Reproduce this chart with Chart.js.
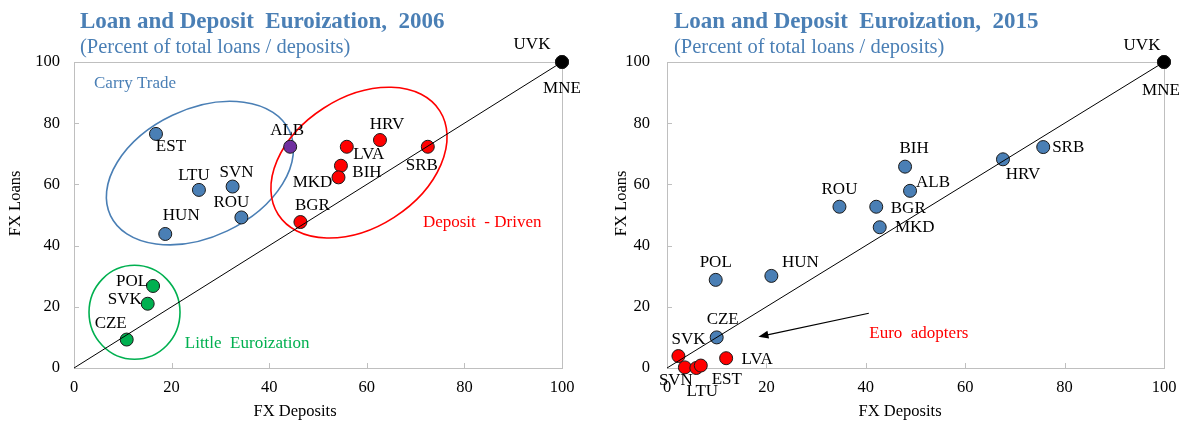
<!DOCTYPE html>
<html>
<head>
<meta charset="utf-8">
<script src="https://cdn.jsdelivr.net/npm/chart.js@4.4.1/dist/chart.umd.min.js"></script>
<style>
  body { margin: 0; background: #fff; width: 1182px; height: 421px; overflow: hidden; position: relative; font-family: "Liberation Serif", serif; }
  .panel { position: absolute; top: 0; height: 421px; }
  .title { position: absolute; font-weight: bold; font-size: 23px; line-height: 23px; color: #4a7fb5; white-space: pre; }
  .sub { position: absolute; font-size: 20.5px; line-height: 20.5px; color: #4a7fb5; white-space: pre; }
</style>
</head>
<body>
<div class="panel" style="left:0;width:590px">
  <canvas id="chart2006" width="590" height="421"></canvas>
</div>
<div class="panel" style="left:590px;width:592px">
  <canvas id="chart2015" width="592" height="421"></canvas>
</div>
<div class="title" style="left:80px;top:9px">Loan and Deposit  Euroization,  2006</div>
<div class="sub" style="left:80px;top:36px">(Percent of total loans / deposits)</div>
<div class="title" style="left:674px;top:9px">Loan and Deposit  Euroization,  2015</div>
<div class="sub" style="left:674px;top:36px">(Percent of total loans / deposits)</div>

<script>
/* ---------------------------
   Data
--------------------------- */
const axisTicks = [0, 20, 40, 60, 80, 100];

const countries2006 = ["UVK", "MNE", "EST", "LTU", "SVN", "ROU", "HUN", "ALB", "HRV", "LVA", "BIH", "MKD", "SRB", "BGR", "POL", "SVK", "CZE"];
const deposits2006 = [100, 100, 16.8, 25.6, 32.5, 34.3, 18.7, 44.3, 62.7, 55.9, 54.7, 54.2, 72.5, 46.4, 16.2, 15.1, 10.8];
const loans2006 = [100, 100, 76.5, 58.2, 59.3, 49.2, 43.8, 72.3, 74.5, 72.3, 66.1, 62.3, 72.3, 47.7, 26.8, 21.0, 9.3];
const groups2006 = ["euroized", "euroized", "carry", "carry", "carry", "carry", "carry", "both", "deposit", "deposit", "deposit", "deposit", "deposit", "deposit", "little", "little", "little"];

const countries2015 = ["UVK", "MNE", "BIH", "ALB", "ROU", "BGR", "MKD", "HRV", "SRB", "POL", "HUN", "CZE", "SVK", "SVN", "LTU", "EST", "LVA"];
const deposits2015 = [100, 100, 47.9, 48.9, 34.7, 42.1, 42.8, 67.6, 75.7, 9.8, 21.0, 10.0, 2.3, 3.6, 5.9, 6.8, 11.9];
const loans2015 = [100, 100, 65.8, 57.9, 52.7, 52.7, 46.0, 68.2, 72.2, 28.8, 30.1, 10.0, 3.9, 0.2, 0.0, 0.8, 3.2];
const groups2015 = ["euroized", "euroized", "other", "other", "other", "other", "other", "other", "other", "other", "other", "other", "adopter", "adopter", "adopter", "adopter", "adopter"];

/* ---------------------------
   Styles
--------------------------- */
const BLUE = "#4a7fb5";
const RED = "#ff0000";
const GREEN = "#00b050";
const SERIF = "'Liberation Serif', 'Times New Roman', serif";

const groupColors = {
  euroized: "#000000",
  carry: BLUE,
  both: "#7030a0",
  deposit: RED,
  little: GREEN,
  other: BLUE,
  adopter: RED
};

// label offsets in px from the point centre
const labelPos2006 = {
  UVK: [-30, -17], MNE: [0, 27], EST: [15, 13], LTU: [-5, -14], SVN: [4, -14],
  ROU: [-10, -15], HUN: [16, -18], ALB: [-3, -16], HRV: [7, -15], LVA: [22, 8],
  BIH: [26, 7], MKD: [-26, 5], SRB: [-6, 19], BGR: [12, -17], POL: [-21, -4],
  SVK: [-23, -4], CZE: [-16, -16]
};
const labelPos2015 = {
  UVK: [-22, -16], MNE: [-3, 29], BIH: [9, -18], ALB: [23, -8], ROU: [0, -17],
  BGR: [32, 2], MKD: [35, 0], HRV: [20, 15], SRB: [25, 0], POL: [0, -17],
  HUN: [29, -13], CZE: [6, -18], SVK: [10, -17], SVN: [-9, 13], LTU: [6, 24],
  EST: [26, 14], LVA: [31, 1]
};

// annotations: centres in data units, radii in px
const ellipses2006 = [
  { cx: 25.8, cy: 63.7, rx: 99, ry: 64, rot: -25.4, color: BLUE },
  { cx: 58.4, cy: 67.1, rx: 96, ry: 65, rot: -32.7, color: RED },
  { cx: 12.4, cy: 18.2, rx: 45.5, ry: 47, rot: 0, color: GREEN }
];
const notes2006 = [
  { text: "Carry Trade", x: 4.1, y: 93.0, color: BLUE },
  { text: "Deposit  - Driven", x: 71.5, y: 47.5, color: RED },
  { text: "Little  Euroization", x: 22.7, y: 8.1, color: GREEN }
];
const notes2015 = [
  { text: "Euro  adopters", x: 40.7, y: 11.3, color: RED }
];
const arrows2015 = [
  { from: [40.6, 17.9], to: [18.4, 10.2] }
];

/* ---------------------------
   Plugins
--------------------------- */
// grey frame round the plot area + inside tick marks
const frameBox = {
  id: "frameBox",
  beforeDatasetsDraw(chart) {
    const { ctx, chartArea: a, scales: { x, y } } = chart;
    ctx.save();
    ctx.strokeStyle = "#bfbfbf";
    ctx.lineWidth = 1;
    ctx.strokeRect(a.left + 0.5, a.top + 0.5, a.right - a.left, a.bottom - a.top);
    ctx.beginPath();
    for (const v of axisTicks) {
      const px = Math.round(x.getPixelForValue(v)) + 0.5;
      ctx.moveTo(px, a.bottom);
      ctx.lineTo(px, a.bottom - 5);
      const py = Math.round(y.getPixelForValue(v)) + 0.5;
      ctx.moveTo(a.left, py);
      ctx.lineTo(a.left + 5, py);
    }
    ctx.stroke();
    ctx.restore();
  }
};

// axis titles, placed where the original has them (not centred on the plot)
const axisTitles = {
  id: "axisTitles",
  afterDraw(chart, args, opts) {
    const { ctx, scales: { x, y } } = chart;
    ctx.save();
    ctx.font = `16.5px ${SERIF}`;
    ctx.fillStyle = "#000";
    ctx.textAlign = "center";
    ctx.textBaseline = "middle";
    ctx.fillText(opts.xText, x.getPixelForValue(opts.xAt), chart.height - 9.5);
    ctx.translate(opts.yTitleX, y.getPixelForValue(opts.yAt));
    ctx.rotate(-Math.PI / 2);
    ctx.fillText(opts.yText, 0, 0);
    ctx.restore();
  }
};

const annotations = {
  id: "annotations",
  beforeDatasetsDraw(chart, args, opts) {
    const { ctx, scales: { x, y } } = chart;
    ctx.save();
    for (const e of opts.ellipses || []) {
      ctx.beginPath();
      ctx.ellipse(x.getPixelForValue(e.cx), y.getPixelForValue(e.cy), e.rx, e.ry, e.rot * Math.PI / 180, 0, Math.PI * 2);
      ctx.strokeStyle = e.color;
      ctx.lineWidth = 1.6;
      ctx.stroke();
    }
    ctx.font = `17px ${SERIF}`;
    ctx.textAlign = "left";
    ctx.textBaseline = "middle";
    for (const n of opts.notes || []) {
      ctx.fillStyle = n.color;
      ctx.fillText(n.text, x.getPixelForValue(n.x), y.getPixelForValue(n.y));
    }
    for (const ar of opts.arrows || []) {
      const x1 = x.getPixelForValue(ar.from[0]), y1 = y.getPixelForValue(ar.from[1]);
      const x2 = x.getPixelForValue(ar.to[0]), y2 = y.getPixelForValue(ar.to[1]);
      const ang = Math.atan2(y2 - y1, x2 - x1);
      const c = Math.cos(ang), s = Math.sin(ang);
      ctx.strokeStyle = "#000";
      ctx.lineWidth = 1.2;
      ctx.beginPath();
      ctx.moveTo(x1, y1);
      ctx.lineTo(x2 - 8 * c, y2 - 8 * s);
      ctx.stroke();
      ctx.fillStyle = "#000";
      ctx.beginPath();
      ctx.moveTo(x2, y2);
      ctx.lineTo(x2 - 10 * c + 4 * s, y2 - 10 * s - 4 * c);
      ctx.lineTo(x2 - 10 * c - 4 * s, y2 - 10 * s + 4 * c);
      ctx.closePath();
      ctx.fill();
    }
    ctx.restore();
  }
};

const pointLabels = {
  id: "pointLabels",
  afterDatasetsDraw(chart, args, opts) {
    const { ctx } = chart;
    const meta = chart.getDatasetMeta(1);
    ctx.save();
    ctx.font = `17px ${SERIF}`;
    ctx.fillStyle = "#000";
    ctx.textAlign = "center";
    ctx.textBaseline = "middle";
    meta.data.forEach((pt, i) => {
      const name = opts.names[i];
      const off = opts.offsets[name] || [0, -15];
      ctx.fillText(name, pt.x + off[0], pt.y + off[1]);
    });
    ctx.restore();
  }
};

/* ---------------------------
   Chart builder
--------------------------- */
function buildChart(canvasId, cfg) {
  const ctx = document.getElementById(canvasId).getContext("2d");
  const points = cfg.deposits.map((d, i) => ({ x: d, y: cfg.loans[i] }));

  return new Chart(ctx, {
    type: "scatter",
    data: {
      datasets: [
        {
          type: "line",
          data: [{ x: 0, y: 0 }, { x: 100, y: 100 }],
          borderColor: "#000",
          borderWidth: 1,
          pointRadius: 0,
          clip: false
        },
        {
          data: points,
          backgroundColor: cfg.groups.map(g => groupColors[g]),
          borderColor: "#1a1a1a",
          borderWidth: 1,
          pointRadius: 6.5,
          clip: false
        }
      ]
    },
    options: {
      responsive: false,
      animation: false,
      devicePixelRatio: 1,
      layout: { padding: { top: 62, right: cfg.padRight, bottom: 0, left: 0 } },
      plugins: {
        legend: { display: false },
        tooltip: { enabled: false },
        annotations: { ellipses: cfg.ellipses, notes: cfg.notes, arrows: cfg.arrows },
        pointLabels: { names: cfg.names, offsets: cfg.offsets },
        axisTitles: { xText: "FX Deposits", xAt: cfg.xTitleAt, yText: "FX Loans", yAt: 53.8, yTitleX: cfg.yTitleX }
      },
      scales: {
        x: {
          type: "linear",
          min: 0,
          max: 100,
          afterBuildTicks: s => { s.ticks = axisTicks.map(v => ({ value: v })); },
          afterFit: s => { s.height = 53; s.paddingLeft = 0; s.paddingRight = 0; },
          grid: { display: false, drawTicks: false },
          border: { color: "#bfbfbf" },
          ticks: { color: "#000", font: { family: SERIF, size: 16.5 }, padding: 10, maxRotation: 0 }
        },
        y: {
          type: "linear",
          min: 0,
          max: 100,
          afterBuildTicks: s => { s.ticks = axisTicks.map(v => ({ value: v })); },
          afterFit: s => { s.width = cfg.yWidth; },
          grid: { display: false, drawTicks: false },
          border: { color: "#bfbfbf" },
          ticks: { color: "#000", font: { family: SERIF, size: 16.5 }, padding: cfg.yTickPad }
        }
      }
    },
    plugins: [frameBox, annotations, pointLabels, axisTitles]
  });
}

buildChart("chart2006", {
  names: countries2006, deposits: deposits2006, loans: loans2006, groups: groups2006,
  offsets: labelPos2006, ellipses: ellipses2006, notes: notes2006, arrows: [],
  yWidth: 74, padRight: 28, yTickPad: 14, yTitleX: 16, xTitleAt: 45.3
});

buildChart("chart2015", {
  names: countries2015, deposits: deposits2015, loans: loans2015, groups: groups2015,
  offsets: labelPos2015, ellipses: [], notes: notes2015, arrows: arrows2015,
  yWidth: 77, padRight: 18, yTickPad: 17, yTitleX: 32, xTitleAt: 46.9
});
</script>
</body>
</html>
